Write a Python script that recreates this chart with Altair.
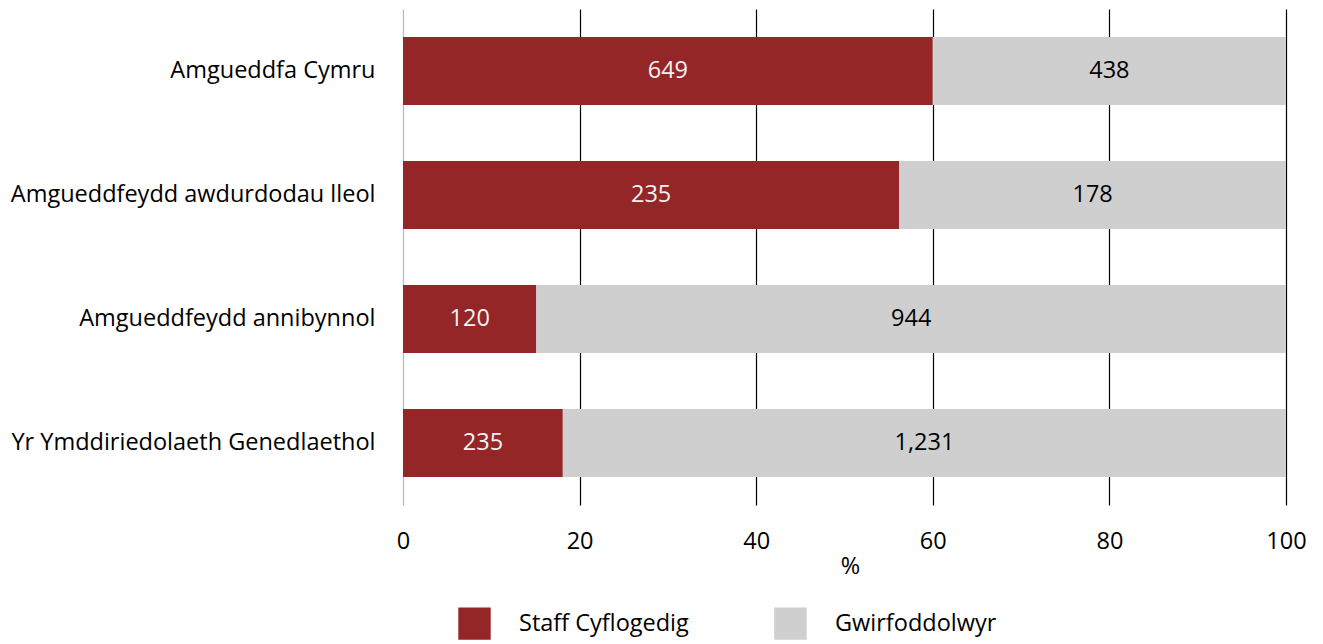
import altair as alt
import pandas as pd

orgs = [
    "Amgueddfa Cymru",
    "Amgueddfeydd awdurdodau lleol",
    "Amgueddfeydd annibynnol",
    "Yr Ymddiriedolaeth Genedlaethol",
]
series = ["Staff Cyflogedig", "Gwirfoddolwyr"]
staff_pct = [60.0, 56.2, 15.1, 18.1]
vol_pct = [40.0, 43.8, 84.9, 81.9]
staff_labels = ["649", "235", "120", "235"]
vol_labels = ["438", "178", "944", "1,231"]

rows = []
for i, o in enumerate(orgs):
    rows.append({"org": o, "series": series[0], "order": 0, "pct": staff_pct[i], "label": staff_labels[i]})
    rows.append({"org": o, "series": series[1], "order": 1, "pct": vol_pct[i], "label": vol_labels[i]})
df = pd.DataFrame(rows)

FONT = "Open Sans"
FS = 23.5
RED = "#942628"
GREY = "#cfcfcf"

base = alt.Chart(df).transform_stack(
    stack="pct", groupby=["org"], as_=["x0", "x1"], sort=[alt.SortField("order", order="ascending")]
).transform_calculate(mid="(datum.x0 + datum.x1) / 2")

y_enc = alt.Y(
    "org:N",
    sort=orgs,
    title=None,
    scale=alt.Scale(paddingInner=0.45, paddingOuter=0.225),
    axis=alt.Axis(
        labelFont=FONT, labelFontSize=FS, labelColor="#000000", labelPadding=28,
        ticks=False, domain=False, grid=False, labelLimit=500,
    ),
)

bars = base.mark_bar().encode(
    x=alt.X(
        "x0:Q",
        scale=alt.Scale(domain=[0, 100], nice=False),
        title="%",
        axis=alt.Axis(
            values=[0, 20, 40, 60, 80, 100], labelFont=FONT, labelFontSize=FS,
            labelColor="#000000", labelPadding=24, ticks=False, domain=False,
            labelFlush=False,
            grid=True,
            gridColor={"condition": {"test": "datum.value === 0", "value": "#b8b8b8"}, "value": "#000000"},
            gridWidth=1.2, gridOpacity=1,
            titleFont=FONT, titleFontSize=FS, titleFontWeight="normal", titleColor="#000000",
            titlePadding=2, titleX=447,
        ),
    ),
    x2="x1:Q",
    y=y_enc,
    color=alt.Color(
        "series:N",
        scale=alt.Scale(domain=series, range=[RED, GREY]),
        legend=alt.Legend(
            title=None, orient="none", legendX=55, legendY=598, direction="horizontal",
            symbolType="square", symbolSize=1050, symbolStrokeWidth=0, symbolOpacity=1,
            labelFont=FONT, labelFontSize=FS, labelColor="#000000", labelOffset=28,
            columnPadding=85, labelLimit=400,
        ),
    ),
)

texts = base.mark_text(font=FONT, fontSize=FS, baseline="middle", align="center").encode(
    x=alt.X("mid:Q"),
    y=alt.Y("org:N", sort=orgs),
    text="label:N",
    color=alt.Color("series:N", scale=alt.Scale(domain=series, range=["#f2f2f2", "#000000"]), legend=None),
)

chart = alt.layer(bars, texts).resolve_scale(color="independent").properties(
    width=883, height=496,
    autosize=alt.AutoSizeParams(type="none"),
    padding={"left": 395, "top": 1, "right": 20, "bottom": 136},
).configure_view(stroke=None)

chart.save("out.html", embed_options={"renderer": "svg", "actions": False})
